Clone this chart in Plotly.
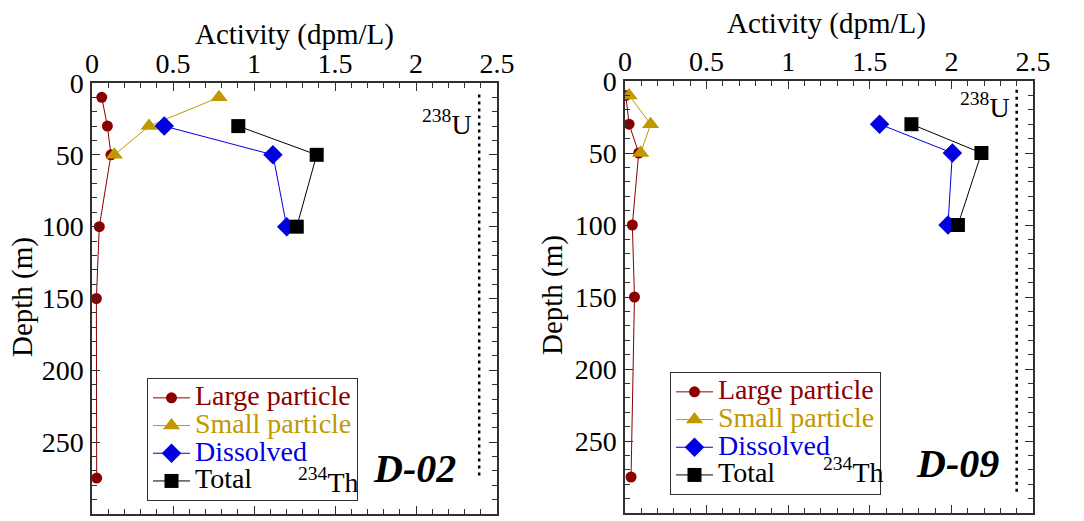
import plotly.graph_objects as go

# Sampling depths (m)
depth_large = [10, 30, 50, 100, 150, 275]
depth_small = [10, 30, 50]
depth_main = [30, 50, 100]

# Station D-02 234Th activities (dpm/L)
large_02 = [0.06, 0.095, 0.117, 0.045, 0.027, 0.029]
small_02 = [0.784, 0.352, 0.138]
dissolved_02 = [0.446, 1.117, 1.202]
total_02 = [0.903, 1.387, 1.264]
u238_02 = 2.39
u238_depth_02 = [8, 276]

# Station D-09 234Th activities (dpm/L)
large_09 = [0.005, 0.025, 0.084, 0.045, 0.058, 0.037]
small_09 = [0.025, 0.157, 0.096]
dissolved_09 = [1.56, 2.006, 1.979]
total_09 = [1.755, 2.184, 2.04]
u238_09 = 2.40
u238_depth_09 = [6, 286]

W, H = 1084, 521
FONT = "Liberation Serif, Times New Roman, serif"
C_LARGE, C_SMALL, C_DISS, C_TOT = "#8B0000", "#C09800", "#0000E0", "#000000"


def px(x):
    return x / W


def py(y):
    return 1 - y / H


def lname(text, color):
    return f'<span style="color:{color};font-size:28px">{text}</span>'


fig = go.Figure()

stations = [
    ("x", "y", "legend", large_02, small_02, dissolved_02, total_02, u238_02, u238_depth_02),
    ("x2", "y2", "legend2", large_09, small_09, dissolved_09, total_09, u238_09, u238_depth_09),
]

for xa, ya, lg, large, small, diss, tot, u238, udepth in stations:
    fig.add_trace(go.Scatter(
        x=large, y=depth_large, xaxis=xa, yaxis=ya, legend=lg, mode="lines+markers",
        name=lname("Large particle", C_LARGE),
        line=dict(color=C_LARGE, width=1),
        marker=dict(symbol="circle", size=11, color=C_LARGE)))
    fig.add_trace(go.Scatter(
        x=small, y=depth_small, xaxis=xa, yaxis=ya, legend=lg, mode="lines+markers",
        name=lname("Small particle", C_SMALL),
        line=dict(color=C_SMALL, width=1),
        marker=dict(symbol="triangle-up", size=15, color=C_SMALL)))
    fig.add_trace(go.Scatter(
        x=diss, y=depth_main, xaxis=xa, yaxis=ya, legend=lg, mode="lines+markers",
        name=lname("Dissolved", C_DISS),
        line=dict(color=C_DISS, width=1),
        marker=dict(symbol="diamond", size=15, color=C_DISS)))
    fig.add_trace(go.Scatter(
        x=tot, y=depth_main, xaxis=xa, yaxis=ya, legend=lg, mode="lines+markers",
        name=lname("Total", C_TOT),
        line=dict(color=C_TOT, width=1),
        marker=dict(symbol="square", size=14, color=C_TOT)))
    # 238U equilibrium reference line
    fig.add_trace(go.Scatter(
        x=[u238, u238], y=udepth, xaxis=xa, yaxis=ya, mode="lines", showlegend=False,
        line=dict(color="black", width=2.5, dash="3px,4px")))

axis_common = dict(
    showgrid=False, zeroline=False, showline=True, linecolor="#303030", linewidth=1.5,
    mirror="ticks", ticks="inside", ticklen=8, tickwidth=1.3, tickcolor="#303030",
    automargin=False,
    tickfont=dict(family=FONT, size=28, color="black"),
)

xaxis_common = dict(axis_common, range=[0, 2.5], dtick=0.5, tick0=0, side="top",
                    ticklabelstandoff=-3,
                    minor=dict(dtick=0.1, ticks="inside", ticklen=5, tickwidth=1.1,
                               tickcolor="#303030"))
yaxis_common = dict(axis_common, range=[300, 0], dtick=50, tick0=0,
                    ticklabelstandoff=1,
                    minor=dict(dtick=10, ticks="inside", ticklen=5, tickwidth=1.1,
                               tickcolor="#303030"))

fig.update_layout(
    template="none",
    width=W, height=H, autosize=False,
    margin=dict(l=0, r=0, t=0, b=0, pad=0),
    paper_bgcolor="white", plot_bgcolor="white",
    font=dict(family=FONT, color="black"),
    xaxis=dict(xaxis_common, domain=[px(92), px(497)], anchor="y"),
    yaxis=dict(yaxis_common, domain=[py(514), py(83)], anchor="x"),
    xaxis2=dict(xaxis_common, domain=[px(625), px(1033)], anchor="y2"),
    yaxis2=dict(yaxis_common, domain=[py(513), py(81)], anchor="x2"),
    legend=dict(x=px(147), y=py(378), xanchor="left", yanchor="top",
                bgcolor="rgba(255,255,255,0)", bordercolor="#303030", borderwidth=1,
                font=dict(family=FONT, size=19), itemwidth=37, tracegroupgap=0),
    legend2=dict(x=px(670), y=py(372), xanchor="left", yanchor="top",
                 bgcolor="rgba(255,255,255,0)", bordercolor="#303030", borderwidth=1,
                 font=dict(family=FONT, size=19), itemwidth=37, tracegroupgap=0),
)

annotations = []


def note(text, x, y, size, angle=0, **font_extra):
    annotations.append(dict(
        text=text, x=px(x), y=py(y), xref="paper", yref="paper",
        xanchor="center", yanchor="middle", showarrow=False, textangle=angle,
        font=dict(family=FONT, size=size, color="black", **font_extra)))


# axis titles
note("Activity (dpm/L)", 294.5, 34, 29)
note("Activity (dpm/L)", 826, 23, 29)
note("Depth (m)", 22, 297, 29, angle=-90)
note("Depth (m)", 552, 295, 29, angle=-90)
# station labels
note("D-02", 414, 468, 40, weight="bold", style="italic")
note("D-09", 957, 463, 40, weight="bold", style="italic")
# isotope labels
note("<sup>238</sup>U", 447, 122, 28)
note("<sup>238</sup>U", 985, 106, 28)
note("<sup>234</sup>Th", 328, 480, 28)
note("<sup>234</sup>Th", 853, 470, 28)

fig.update_layout(annotations=annotations)

fig.write_html("out.html")
